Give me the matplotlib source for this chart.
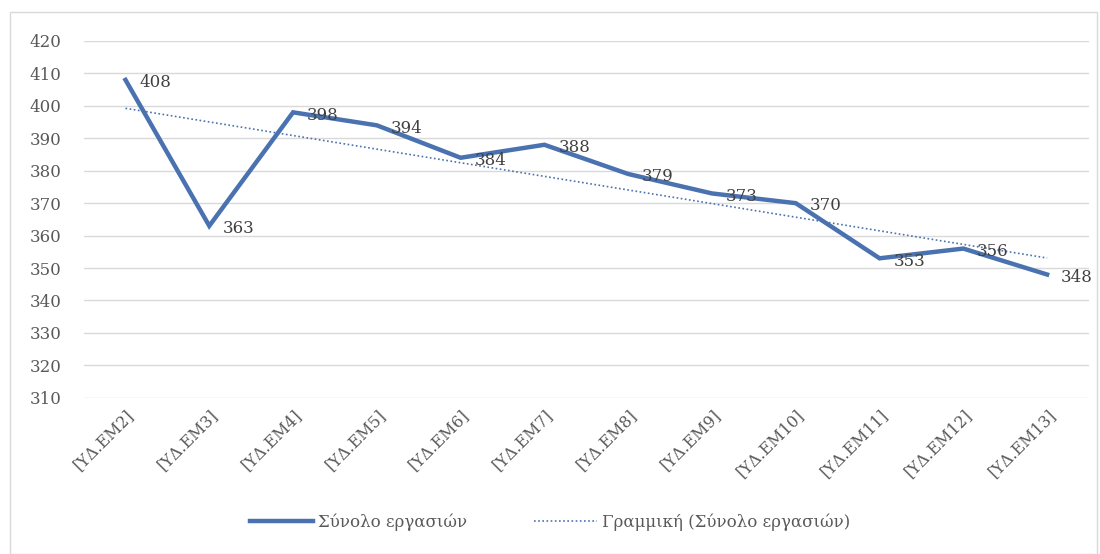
import matplotlib
matplotlib.use("Agg")
import matplotlib.pyplot as plt
from matplotlib.patches import Rectangle
import numpy as np

categories = ["[ΥΔ.ΕΜ2]", "[ΥΔ.ΕΜ3]", "[ΥΔ.ΕΜ4]", "[ΥΔ.ΕΜ5]", "[ΥΔ.ΕΜ6]", "[ΥΔ.ΕΜ7]",
              "[ΥΔ.ΕΜ8]", "[ΥΔ.ΕΜ9]", "[ΥΔ.ΕΜ10]", "[ΥΔ.ΕΜ11]", "[ΥΔ.ΕΜ12]", "[ΥΔ.ΕΜ13]"]
totals = [408, 363, 398, 394, 384, 388, 379, 373, 370, 353, 356, 348]
yticks = list(range(310, 421, 10))

plt.rcParams['font.family'] = ['DejaVu Serif']

blue = '#4a72b0'
grey = '#595959'

fig = plt.figure(figsize=(11, 5.54), dpi=100)
# outer chart border
fig.patches.append(Rectangle((0.009, 0.0), 0.988, 0.978, transform=fig.transFigure,
                             fill=False, edgecolor='#d9d9d9', linewidth=1))
ax = fig.add_axes([0.076, 0.282, 0.914, 0.644])

x = np.arange(len(totals))
ax.plot(x, totals, color=blue, linewidth=3.2, solid_joinstyle='miter', zorder=3,
        label='Σύνολο εργασιών')
k, b = np.polyfit(x, totals, 1)
ax.plot(x, k * x + b, color=blue, linewidth=1.2, linestyle=(0, (1, 1.5)), zorder=2,
        label='Γραμμική (Σύνολο εργασιών)')

for xi, v in zip(x, totals):
    ax.annotate(str(v), (xi, v), xytext=(10, -2), textcoords='offset points',
                ha='left', va='center', fontsize=12, color='#404040')

ax.set_xlim(-0.5, len(totals) - 0.5)
ax.set_ylim(310, 420)
ax.set_yticks(yticks)
ax.set_xticks(x)
ax.set_xticklabels(categories, rotation=45, ha='right', rotation_mode='anchor')
ax.tick_params(axis='y', length=0, labelsize=12, labelcolor=grey, pad=16)
ax.tick_params(axis='x', length=0, labelsize=11.5, labelcolor=grey, pad=6)
ax.grid(axis='y', color='#d9d9d9', linewidth=1)
ax.set_axisbelow(True)
for s in ax.spines.values():
    s.set_visible(False)

fig.legend(loc='lower center', bbox_to_anchor=(0.5, 0.015), ncol=2, frameon=False,
           fontsize=12, labelcolor=grey, handlelength=3.8, handletextpad=0.3,
           columnspacing=4.0)

plt.savefig('out.png', dpi=100)
